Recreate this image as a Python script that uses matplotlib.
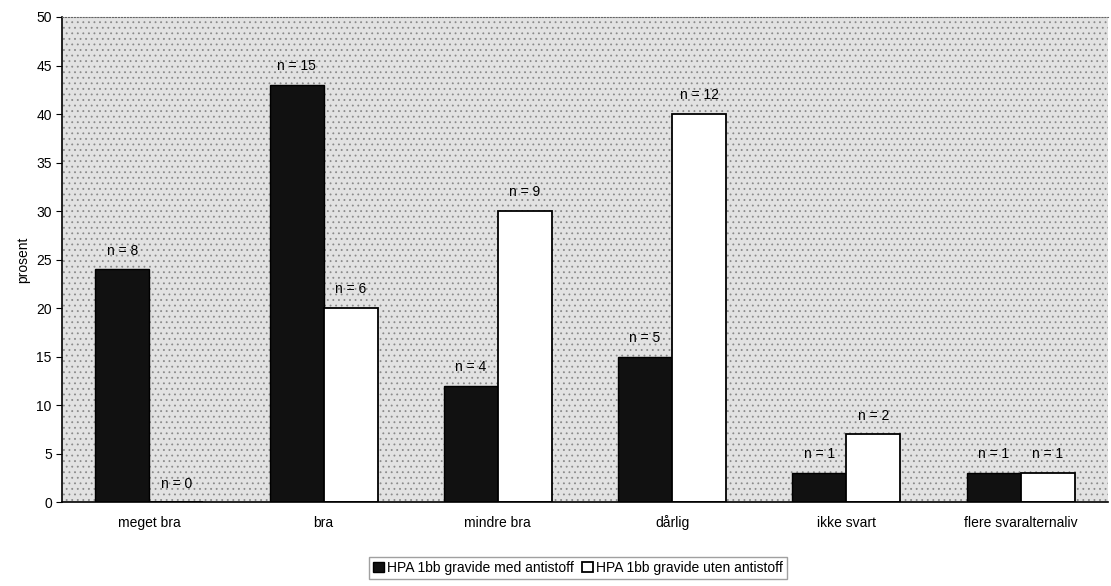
import matplotlib
matplotlib.use('Agg')
import matplotlib.pyplot as plt
import numpy as np
from matplotlib.patches import Rectangle

# data
kategorier = ['meget bra', 'bra', 'mindre bra', 'dårlig', 'ikke svart', 'flere svaralternaliv']
med_antistoff = [24, 43, 12, 15, 3, 3]
uten_antistoff = [0, 20, 30, 40, 7, 3]
n_med = [8, 15, 4, 5, 1, 1]
n_uten = [0, 6, 9, 12, 2, 1]

plt.rcParams['font.family'] = ['Liberation Sans', 'DejaVu Sans']
plt.rcParams['hatch.linewidth'] = 0.6

fig = plt.figure(figsize=(11.11, 5.86), dpi=100)
ax = fig.add_axes([0.056, 0.143, 0.941, 0.828])

# stippled grey background
ax.set_facecolor('#e2e2e2')
ax.add_patch(Rectangle((0, 0), 1, 1, transform=ax.transAxes, facecolor='none',
                       edgecolor='#8a8a8a', hatch='...', linewidth=0, zorder=0))

x = np.arange(len(kategorier))
w = 0.31
b1 = ax.bar(x - w/2, med_antistoff, w, color='#111111', edgecolor='black', linewidth=1, zorder=2,
            label='HPA 1bb gravide med antistoff')
b2 = ax.bar(x + w/2, uten_antistoff, w, color='white', edgecolor='black', linewidth=1.3, zorder=2,
            label='HPA 1bb gravide uten antistoff')

for i in range(len(x)):
    ax.text(x[i] - w/2, med_antistoff[i] + 1.2, 'n = %d' % n_med[i], ha='center', va='bottom', fontsize=10)
    ax.text(x[i] + w/2, uten_antistoff[i] + 1.2, 'n = %d' % n_uten[i], ha='center', va='bottom', fontsize=10)

ax.set_xlim(-0.5, len(x) - 0.5)
ax.set_ylim(0, 50)
ax.set_yticks(range(0, 51, 5))
ax.set_xticks(x)
ax.set_xticklabels(kategorier, fontsize=10)
for t in ax.get_xticklabels():
    t.set_verticalalignment('baseline')
ax.tick_params(axis='x', length=0, pad=18)
ax.tick_params(axis='y', labelsize=10, length=4, direction='out')
ax.set_ylabel('prosent', fontsize=10)

ax.spines['right'].set_visible(False)
ax.spines['top'].set_linestyle(':')
ax.spines['top'].set_color('#666666')
ax.spines['left'].set_linewidth(1.2)
ax.spines['bottom'].set_linewidth(1.2)

fig.legend(handles=[b1, b2], loc='lower center', bbox_to_anchor=(0.52, 0.0), ncol=2,
           fontsize=10, frameon=True, fancybox=False, edgecolor='#888888',
           handlelength=0.8, handleheight=0.8, handletextpad=0.2, columnspacing=0.6,
           borderpad=0.3)

plt.savefig('out.png')
